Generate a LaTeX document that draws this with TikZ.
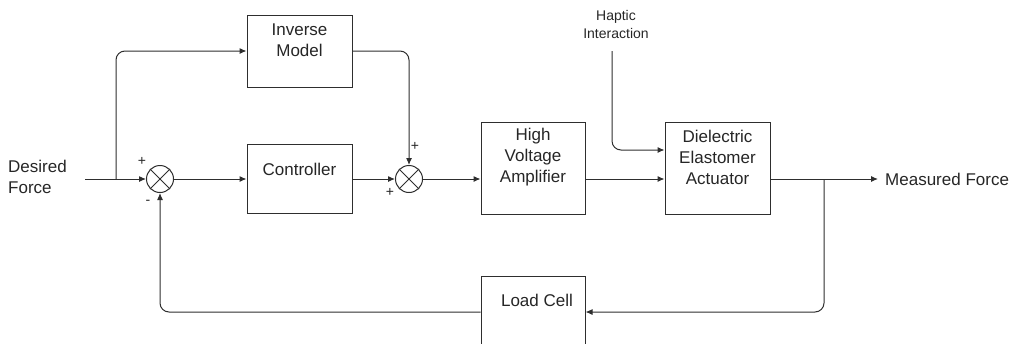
\documentclass[tikz,border=0pt]{standalone}
\usepackage{fontspec}
\setmainfont{Liberation Sans}
\usepackage{tikz}
\usetikzlibrary{positioning,arrows.meta,shapes}
\definecolor{lncol}{HTML}{2E2E2E}

\begin{document}
\begin{tikzpicture}[x=1pt, y=-1pt,
    BLK/.style={rectangle, draw=lncol, line width=1pt, fill=white,
      minimum width=105pt, inner sep=0pt},
    TXT/.style={align=center, inner sep=0pt,
      font=\fontsize{17}{21}\selectfont, text=black!85},
    SM/.style={circle, draw=lncol, line width=1pt, minimum size=27pt, inner sep=0pt},
    SG/.style={inner sep=0pt, font=\fontsize{14}{14}\selectfont, text=black!85},
    ln/.style={line width=1pt, color=lncol},
    arr/.style={ln, -{Latex[length=7pt,width=6pt]}}
  ]
    \useasboundingbox (0,0) rectangle (1014,343);
    \clip (0,0) rectangle (1014,343);

    %% Blocks
    \node[BLK, minimum height=72pt] (inv) at (299.5,51) {};
    \node[TXT] (invt) at (299.5,40.5) {Inverse\\Model};
    \node[BLK, minimum height=69pt] (ctl) at (299.5,178.5) {};
    \node[TXT] (ctlt) at (299.5,169) {Controller};
    \node[BLK, minimum width=104pt, minimum height=92pt] (hva) at (533,168) {};
    \node[TXT] (hvat) at (533,157) {High\\Voltage\\Amplifier};
    \node[BLK, minimum height=92pt] (dea) at (717.5,168) {};
    \node[TXT] (deat) at (717.5,157) {Dielectric\\Elastomer\\Actuator};
    \node[BLK, minimum width=104pt, minimum height=72pt] (lc) at (533,312) {};
    \node[TXT] (lct) at (537,300) {Load Cell};

    %% Summing junctions
    \node[SM] (s1) at (160,179) {};
    \node[SM] (s2) at (409,179) {};
    \foreach \s in {s1,s2}
      \draw[ln] (\s.north west) -- (\s.south east) (\s.north east) -- (\s.south west);

    %% Signals and their texts
    \node[TXT, anchor=west, align=left] (din) at (8,176.5) {Desired\\Force};
    \node[TXT, anchor=west] (mf) at (885,179) {Measured Force};
    \node[TXT, font=\fontsize{14}{18}\selectfont] (hapt) at (616,24) {Haptic\\Interaction};
    \coordinate (in) at (85,179);
    \coordinate (br) at (116,179);
    \coordinate (hap) at (612,51);
    \coordinate (out) at (878,179);
    \coordinate (fb) at (824,179);

    %% Signs
    \node[SG] (p1) at (142,161) {+};
    \node[SG] (m1) at (148,202) {-};
    \node[SG] (p2) at (415,146) {+};
    \node[SG] (p3) at (390,192) {+};

    %% Arrows
    \draw[arr] (in) -- (s1);
    \draw[arr, rounded corners=9pt] (br) |- (inv.west);
    \draw[arr, rounded corners=9pt] (inv.east) -| (s2.north);
    \draw[arr] (s1) -- (ctl.west |- s1);
    \draw[arr] (ctl.east |- s2) -- (s2);
    \draw[arr] (s2) -- (hva.west |- s2);
    \draw[arr] (hva.east |- s2) -- (dea.west |- s2);
    \draw[arr, rounded corners=9pt] (hap) |- ([yshift=18pt]dea.west);
    \draw[arr] (dea.east |- s2) -- (out);
    \draw[arr, rounded corners=9pt] (fb) |- (lc.east);
    \draw[arr, rounded corners=9pt] (lc.west) -| (s1.south);
  \end{tikzpicture}
\end{document}
